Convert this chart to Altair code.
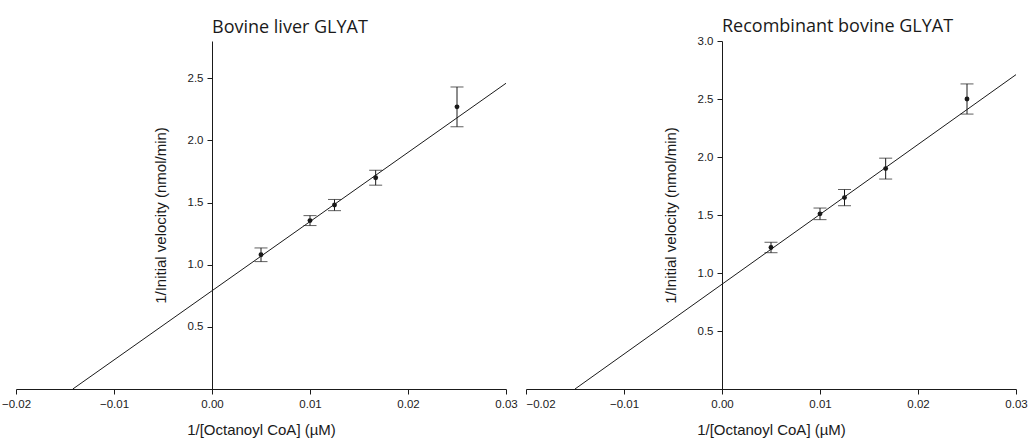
import altair as alt
import pandas as pd

# Reciprocal substrate concentrations, 1/[Octanoyl CoA] (1/uM)
conc = [0.005, 0.010, 0.0125, 0.0167, 0.025]

# Bovine liver GLYAT: mean 1/v and error
liver_mean = [1.08, 1.355, 1.48, 1.70, 2.27]
liver_err = [0.055, 0.04, 0.045, 0.06, 0.16]
liver_fit_x = [-0.0142, 0.03]
liver_fit_y = [0.0, 2.46]

# Recombinant bovine GLYAT: mean 1/v and error
recomb_mean = [1.22, 1.51, 1.65, 1.90, 2.50]
recomb_err = [0.045, 0.05, 0.07, 0.09, 0.13]
recomb_fit_x = [-0.015, 0.03]
recomb_fit_y = [0.0, 2.71]

x_ticks = [-0.02, -0.01, 0.0, 0.01, 0.02, 0.03]
liver_y_ticks = [0.5, 1.0, 1.5, 2.0, 2.5]
recomb_y_ticks = [0.5, 1.0, 1.5, 2.0, 2.5, 3.0]

X_DOMAIN = [-0.02, 0.03]
PANEL_W = 490
PANEL_H = 348
INK = "#1a1a1a"
AXIS_FONT = "Liberation Sans"
# y axis sits on x = 0, inside the plot area
Y_AXIS_SHIFT = -PANEL_W * (0 - X_DOMAIN[0]) / (X_DOMAIN[1] - X_DOMAIN[0])

axis_style = dict(
    grid=False, tickSize=5, tickWidth=1, domainWidth=1,
    domainColor=INK, tickColor=INK, labelColor=INK, titleColor=INK,
    labelFont=AXIS_FONT, titleFont=AXIS_FONT,
    labelFontSize=11.5, titleFontSize=15, titleFontWeight="normal",
)


def panel(title, mean, err, fit_x, fit_y, y_max, y_ticks, title_dy, first_label_left):
    pts = pd.DataFrame({
        "x": conc,
        "y": mean,
        "lo": [m - e for m, e in zip(mean, err)],
        "hi": [m + e for m, e in zip(mean, err)],
    })
    fit = pd.DataFrame({"x": fit_x, "y": fit_y})

    xs = alt.Scale(domain=X_DOMAIN, nice=False, zero=False)
    ys = alt.Scale(domain=[0, y_max], nice=False, zero=False)
    x_label_align = (
        {"condition": {"test": f"datum.value <= {X_DOMAIN[0]}", "value": "left"}, "value": "center"}
        if first_label_left else "center"
    )
    x_axis = alt.Axis(
        values=x_ticks, format=".2f", title="1/[Octanoyl CoA] (µM)",
        labelFlush=False, labelAlign=x_label_align, labelPadding=4, titlePadding=13,
        **axis_style,
    )
    y_axis = alt.Axis(
        values=y_ticks, format=".1f", title="1/Initial velocity (nmol/min)",
        labelFlush=False, labelPadding=4, titlePadding=19,
        offset=Y_AXIS_SHIFT, **axis_style,
    )

    def X(field):
        return alt.X(field, type="quantitative", scale=xs, axis=x_axis)

    def Y(field):
        return alt.Y(field, type="quantitative", scale=ys, axis=y_axis)

    line = alt.Chart(fit).mark_line(color=INK, strokeWidth=1).encode(x=X("x"), y=Y("y"))
    base = alt.Chart(pts)
    bars = base.mark_rule(color=INK, strokeWidth=1).encode(x=X("x"), y=Y("lo"), y2="hi")
    cap_lo = base.mark_tick(color=INK, orient="horizontal", size=13, thickness=1).encode(x=X("x"), y=Y("lo"))
    cap_hi = base.mark_tick(color=INK, orient="horizontal", size=13, thickness=1).encode(x=X("x"), y=Y("hi"))
    dots = base.mark_circle(color=INK, size=24, opacity=1).encode(x=X("x"), y=Y("y"))

    return alt.layer(line, bars, cap_lo, cap_hi, dots).properties(
        width=PANEL_W,
        height=PANEL_H,
        title=alt.Title(
            title, anchor="start", frame="group", dx=-Y_AXIS_SHIFT, dy=title_dy,
            font="Open Sans", fontSize=18, fontWeight="normal", color=INK, offset=6,
        ),
    )


left = panel("Bovine liver GLYAT", liver_mean, liver_err, liver_fit_x, liver_fit_y,
             2.8, liver_y_ticks, 2, False)
right = panel("Recombinant bovine GLYAT", recomb_mean, recomb_err, recomb_fit_x, recomb_fit_y,
              3.0, recomb_y_ticks, 7, True)

chart = alt.hconcat(left, right, spacing=20, bounds="flush").properties(
    padding={"left": 1, "top": 18, "right": 2, "bottom": 2},
    background="white",
).configure_view(strokeOpacity=0, strokeWidth=0)

chart.save("out.html", embed_options={"renderer": "svg", "actions": False})
